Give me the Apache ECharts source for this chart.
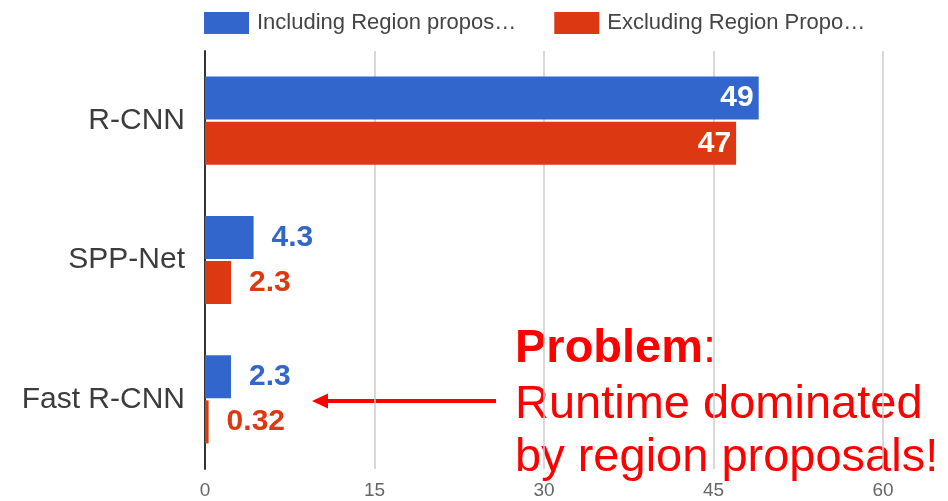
<!DOCTYPE html>
<html>
<head>
<meta charset="utf-8">
<style>
  html, body { margin: 0; padding: 0; background: #fff; }
  #chart-container { width: 948px; height: 501px; }
</style>
<script src="https://cdn.jsdelivr.net/npm/echarts@6/dist/echarts.min.js"></script>
</head>
<body>
<div id="chart-container"></div>
<script>
var methods = ['R-CNN', 'SPP-Net', 'Fast R-CNN'];
var seriesNames = ['Including Region propos…', 'Excluding Region Propo…'];
var includingRP = [49, 4.3, 2.3];
var excludingRP = [47, 2.3, 0.32];
var xTicks = [0, 15, 30, 45, 60];

var colors = ['#3366cc', '#dc3912'];
var font = "'Liberation Sans', Arial, sans-serif";

var dom = document.getElementById('chart-container');
var myChart = echarts.init(dom, null, { renderer: 'canvas' });

// long bars get the value inside in white, short ones outside in the bar colour
function withLabels(values, color) {
  return values.map(function (v) {
    var inside = v > 20;
    return {
      value: v,
      label: {
        show: true,
        position: inside ? 'insideRight' : 'right',
        distance: inside ? 5 : 18,
        color: inside ? '#fff' : color,
        fontSize: 30,
        fontWeight: 'bold',
        fontFamily: font
      }
    };
  });
}

var option = {
  animation: false,
  color: colors,
  legend: {
    left: 199,
    top: 7,
    icon: 'rect',
    itemWidth: 45,
    itemHeight: 22,
    itemGap: 38,
    textStyle: { fontSize: 22, color: '#444', fontFamily: font, padding: [0, 0, 0, 3] }
  },
  grid: {
    left: 205,
    right: 65,
    top: 51,
    bottom: 32,
    outerBoundsMode: 'none'
  },
  xAxis: {
    type: 'value',
    min: xTicks[0],
    max: xTicks[xTicks.length - 1],
    interval: 15,
    axisLine: { show: false },
    axisTick: { show: false },
    splitLine: { lineStyle: { color: '#cccccc', width: 1.5 } },
    axisLabel: { fontSize: 19, color: '#666', fontFamily: font, margin: 12 }
  },
  yAxis: {
    type: 'category',
    data: methods,
    inverse: true,
    axisLine: { lineStyle: { color: '#333', width: 2 } },
    axisTick: { show: false },
    axisLabel: { fontSize: 30, color: '#3c3c3c', fontFamily: font, margin: 20 }
  },
  series: [
    {
      name: seriesNames[0],
      type: 'bar',
      barWidth: 43,
      barGap: '5%',
      data: withLabels(includingRP, colors[0])
    },
    {
      name: seriesNames[1],
      type: 'bar',
      barWidth: 43,
      barGap: '5%',
      data: withLabels(excludingRP, colors[1])
    }
  ],
  graphic: [
    {
      type: 'line',
      shape: { x1: 496, y1: 401, x2: 326, y2: 401 },
      style: { stroke: '#ff0000', lineWidth: 4 }
    },
    {
      type: 'polygon',
      shape: { points: [[312, 401], [328, 393.5], [328, 408.5]] },
      style: { fill: '#ff0000' }
    },
    {
      type: 'text',
      x: 515,
      y: 349,
      style: {
        text: '{b|Problem}:',
        fill: '#ff0000',
        font: '47px ' + font,
        verticalAlign: 'middle',
        rich: {
          b: { fontWeight: 'bold', fontSize: 47, fontFamily: font, fill: '#ff0000' }
        }
      }
    },
    {
      type: 'text',
      x: 515,
      y: 405,
      style: {
        text: 'Runtime dominated',
        fill: '#ff0000',
        font: '47px ' + font,
        verticalAlign: 'middle'
      }
    },
    {
      type: 'text',
      x: 515,
      y: 458,
      style: {
        text: 'by region proposals!',
        fill: '#ff0000',
        font: '47px ' + font,
        verticalAlign: 'middle'
      }
    }
  ]
};

myChart.setOption(option);
window.addEventListener('resize', myChart.resize);
</script>
</body>
</html>
